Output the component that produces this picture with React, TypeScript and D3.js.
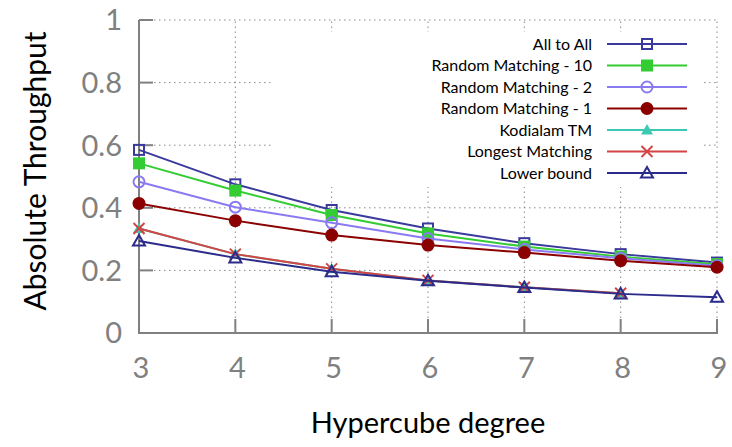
import React from "react";
import * as d3 from "d3";

const degrees = [3, 4, 5, 6, 7, 8, 9];
const allToAll = [0.585, 0.475, 0.393, 0.334, 0.287, 0.252, 0.225];
const randomMatching10 = [0.542, 0.455, 0.377, 0.318, 0.276, 0.244, 0.22];
const randomMatching2 = [0.483, 0.402, 0.352, 0.302, 0.267, 0.239, 0.215];
const randomMatching1 = [0.414, 0.359, 0.313, 0.281, 0.257, 0.231, 0.21];
const kodialamTM = [0.334, 0.252, 0.205, 0.168, 0.146, 0.127];
const longestMatching = [0.334, 0.252, 0.205, 0.168, 0.146, 0.127];
const lowerBound = [0.294, 0.24, 0.196, 0.167, 0.145, 0.125, 0.114];

const yTicks = [0, 0.2, 0.4, 0.6, 0.8, 1];
const yTickLabels = ["0", "0.2", "0.4", "0.6", "0.8", "1"];
const xTicks = [3, 4, 5, 6, 7, 8, 9];

type Marker = "sqOpen" | "sqFill" | "circOpen" | "circFill" | "triFill" | "cross" | "triOpen";

const seriesNames = [
  "All to All",
  "Random Matching - 10",
  "Random Matching - 2",
  "Random Matching - 1",
  "Kodialam TM",
  "Longest Matching",
  "Lower bound",
];
const seriesValues = [allToAll, randomMatching10, randomMatching2, randomMatching1, kodialamTM, longestMatching, lowerBound];
const seriesColors = ["#3a3a9c", "#33cc33", "#8a7af2", "#8b0000", "#3cc9b4", "#d44444", "#2b2b8c"];
const seriesMarkers: Marker[] = ["sqOpen", "sqFill", "circOpen", "circFill", "triFill", "cross", "triOpen"];

const FONT = "Lato, 'Open Sans', sans-serif";

function MarkerShape({ type, x, y, color }: { type: Marker; x: number; y: number; color: string }) {
  switch (type) {
    case "sqOpen":
      return <rect x={x - 5} y={y - 5} width={10} height={10} fill="white" fillOpacity={0} stroke={color} strokeWidth={2} />;
    case "sqFill":
      return <rect x={x - 6} y={y - 6} width={12} height={12} fill={color} />;
    case "circOpen":
      return <circle cx={x} cy={y} r={5.5} fill="none" stroke={color} strokeWidth={2} />;
    case "circFill":
      return <circle cx={x} cy={y} r={6.5} fill={color} />;
    case "triFill":
      return <path d={`M${x},${y - 6}L${x + 6},${y + 4.5}L${x - 6},${y + 4.5}Z`} fill={color} />;
    case "cross":
      return (
        <path d={`M${x - 5.5},${y - 5.5}L${x + 5.5},${y + 5.5}M${x - 5.5},${y + 5.5}L${x + 5.5},${y - 5.5}`} stroke={color} strokeWidth={2} />
      );
    case "triOpen":
      return <path d={`M${x},${y - 6}L${x + 6},${y + 4.5}L${x - 6},${y + 4.5}Z`} fill="none" stroke={color} strokeWidth={2} />;
  }
}

export default function App() {
  const W = 732;
  const H = 447;
  const x = d3.scaleLinear().domain([3, 9]).range([139, 717]);
  const y = d3.scaleLinear().domain([0, 1]).range([333, 20]);
  const axisColor = "#808080";
  const gridColor = "#8a8a8a";
  const line = d3
    .line<number>()
    .x((_, i) => x(degrees[i]))
    .y((v) => y(v));

  const legendTextX = 592;
  const legendLine0 = 607;
  const legendLine1 = 687;
  const legendY0 = 44;
  const legendDy = 21.5;

  return (
    <svg width={W} height={H} style={{ position: "absolute", left: 0, top: 0, background: "white" }} fontFamily={FONT}>
      <rect x={0} y={0} width={W} height={H} fill="white" />
      {/* grid */}
      <g stroke={gridColor} strokeWidth={1} strokeDasharray="1.5,3.5">
        {yTicks.filter((t) => t > 0).map((t) => (
          <line key={"gy" + t} x1={x(3)} x2={x(9)} y1={y(t)} y2={y(t)} />
        ))}
        {xTicks.filter((t) => t > 3).map((t) => (
          <line key={"gx" + t} x1={x(t)} x2={x(t)} y1={y(0)} y2={y(1)} />
        ))}
      </g>
      {/* legend background */}
      <rect x={273} y={32} width={428} height={155} fill="white" />
      {/* axes */}
      <g stroke={axisColor} strokeWidth={2}>
        <line x1={x(3)} x2={x(3)} y1={y(0) + 1} y2={y(1)} />
        <line x1={x(3) - 1} x2={x(9) + 1} y1={y(0)} y2={y(0)} />
        {yTicks.map((t) => (
          <line key={"ty" + t} x1={x(3)} x2={x(3) + 14} y1={y(t)} y2={y(t)} />
        ))}
        {xTicks.map((t) => (
          <line key={"tx" + t} x1={x(t)} x2={x(t)} y1={y(0)} y2={y(0) - 14} />
        ))}
      </g>
      {/* tick labels */}
      <g fill={axisColor} fontSize={29}>
        {yTicks.map((t, i) => (
          <text key={"ly" + t} x={122} y={y(t)} dy="0.36em" textAnchor="end">
            {yTickLabels[i]}
          </text>
        ))}
        {xTicks.map((t) => (
          <text key={"lx" + t} x={x(t) + 2} y={378} textAnchor="middle">
            {t}
          </text>
        ))}
      </g>
      {/* axis titles */}
      <text x={428} y={433} textAnchor="middle" fontSize={29} fill="black">
        Hypercube degree
      </text>
      <text transform="translate(46,171) rotate(-90)" textAnchor="middle" fontSize={30} fill="black">
        Absolute Throughput
      </text>
      {/* series */}
      {seriesValues.map((vals, si) => (
        <g key={"s" + si}>
          <path d={line(vals) || ""} fill="none" stroke={seriesColors[si]} strokeWidth={2} />
          {vals.map((v, i) => (
            <MarkerShape key={i} type={seriesMarkers[si]} x={x(degrees[i])} y={y(v)} color={seriesColors[si]} />
          ))}
        </g>
      ))}
      {/* legend */}
      {seriesNames.map((name, si) => {
        const ly = legendY0 + si * legendDy;
        return (
          <g key={"lg" + si}>
            <text x={legendTextX} y={ly} dy="0.36em" textAnchor="end" fontSize={16} fill="black">
              {name}
            </text>
            <line x1={legendLine0} x2={legendLine1} y1={ly} y2={ly} stroke={seriesColors[si]} strokeWidth={2} />
            <MarkerShape type={seriesMarkers[si]} x={(legendLine0 + legendLine1) / 2} y={ly} color={seriesColors[si]} />
          </g>
        );
      })}
    </svg>
  );
}
